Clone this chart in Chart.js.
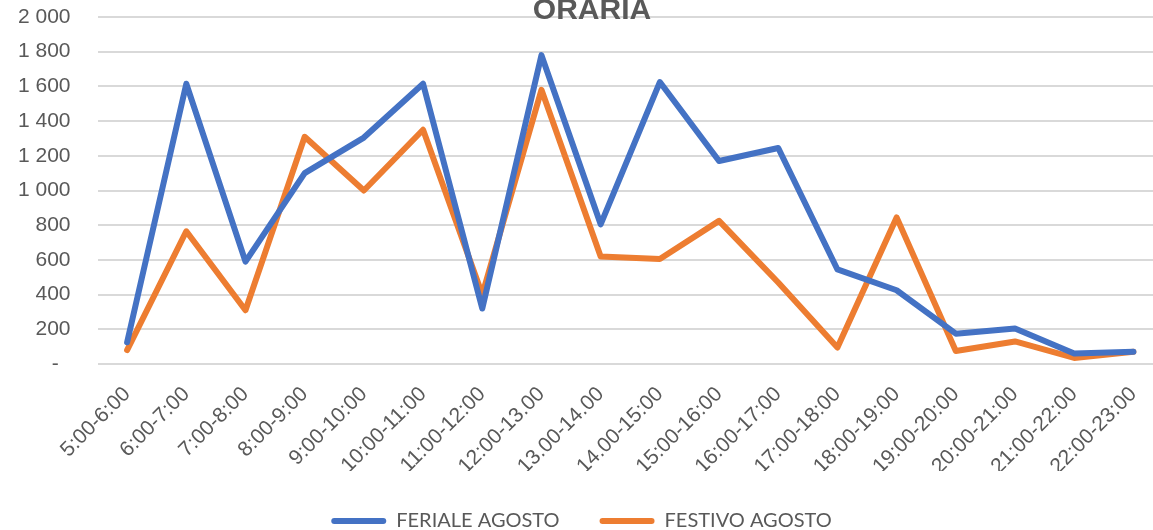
<!DOCTYPE html>
<html>
<head>
<meta charset="utf-8">
<script src="https://cdn.jsdelivr.net/npm/chart.js@4/dist/chart.umd.min.js"></script>
<style>
  html, body { margin: 0; padding: 0; background: #fff; overflow: hidden; }
  #wrap { position: relative; width: 1163px; height: 541px; }
</style>
</head>
<body>
<div id="wrap"><canvas id="c"></canvas></div>
<script>
// Time slots (x categories)
const fasceOrarie = ['5:00-6:00','6:00-7:00','7:00-8:00','8:00-9:00','9:00-10:00','10:00-11:00',
  '11:00-12:00','12:00-13.00','13.00-14.00','14.00-15:00','15:00-16:00','16:00-17:00',
  '17:00-18:00','18:00-19:00','19:00-20:00','20:00-21:00','21:00-22:00','22:00-23:00'];

// Weekday counts, August
const ferialeAgosto = [125,1615,590,1100,1305,1615,320,1780,805,1625,1170,1245,545,425,175,205,60,70];
// Holiday counts, August
const festivoAgosto = [80,765,310,1310,1000,1350,400,1580,620,605,825,470,95,845,75,130,35,70];

const seriesNames = ['FERIALE AGOSTO', 'FESTIVO AGOSTO'];
const titolo = 'ORARIA';

const GREY = '#595959';
const FONT = '"Liberation Sans", Arial, sans-serif';

function formatMigliaia(v) {
  if (v === 0) return '-  ';
  return String(v).replace(/\B(?=(\d{3})+(?!\d))/g, ' ');
}

// Title drawn over the top of the plot
const titlePlugin = {
  id: 'oraria',
  afterDraw(chart) {
    const ctx = chart.ctx;
    ctx.save();
    ctx.font = 'bold 30px ' + FONT;
    ctx.fillStyle = GREY;
    ctx.textAlign = 'center';
    ctx.textBaseline = 'alphabetic';
    ctx.fillText(titolo, 592, 18.5);
    ctx.restore();
  }
};

new Chart(document.getElementById('c'), {
  type: 'line',
  data: {
    labels: fasceOrarie,
    datasets: [
      { label: seriesNames[0], data: ferialeAgosto, borderColor: '#4472C4', backgroundColor: '#4472C4' },
      { label: seriesNames[1], data: festivoAgosto, borderColor: '#ED7D31', backgroundColor: '#ED7D31' }
    ]
  },
  options: {
    responsive: true,
    maintainAspectRatio: false,
    animation: false,
    devicePixelRatio: 1,
    layout: { padding: { top: 17, right: 0, left: 0, bottom: 0 } },
    elements: {
      line: { borderWidth: 6, tension: 0, borderJoinStyle: 'round', borderCapStyle: 'round' },
      point: { radius: 0, hoverRadius: 0 }
    },
    scales: {
      x: {
        type: 'category',
        offset: true,
        grid: { display: false },
        border: { display: false },
        ticks: {
          autoSkip: false, minRotation: 45, maxRotation: 45,
          color: GREY, font: { family: FONT, size: 21 }, padding: 10
        },
        afterFit(s) { s.height = 107; }
      },
      y: {
        min: 0, max: 2000,
        grid: { color: '#D9D9D9', lineWidth: 2, drawTicks: false },
        border: { display: false },
        ticks: {
          stepSize: 200, color: GREY, font: { family: FONT, size: 21 }, padding: 27,
          callback: (v) => formatMigliaia(v)
        },
        afterFit(s) { s.width = 97.5; s.paddingTop = 0; s.paddingBottom = 0; }
      }
    },
    plugins: {
      tooltip: { enabled: false },
      legend: {
        position: 'bottom',
        labels: {
          color: GREY,
          font: { family: 'Lato, "Liberation Sans", sans-serif', size: 20 },
          boxWidth: 55, boxHeight: 6, padding: 40,
          useBorderRadius: true, borderRadius: 3,
          generateLabels(chart) {
            return chart.data.datasets.map((d, i) => ({
              text: d.label, fillStyle: d.borderColor, strokeStyle: d.borderColor,
              lineWidth: 0, fontColor: GREY, borderRadius: 3, datasetIndex: i, hidden: false
            }));
          }
        }
      }
    }
  },
  plugins: [titlePlugin]
});
</script>
</body>
</html>
